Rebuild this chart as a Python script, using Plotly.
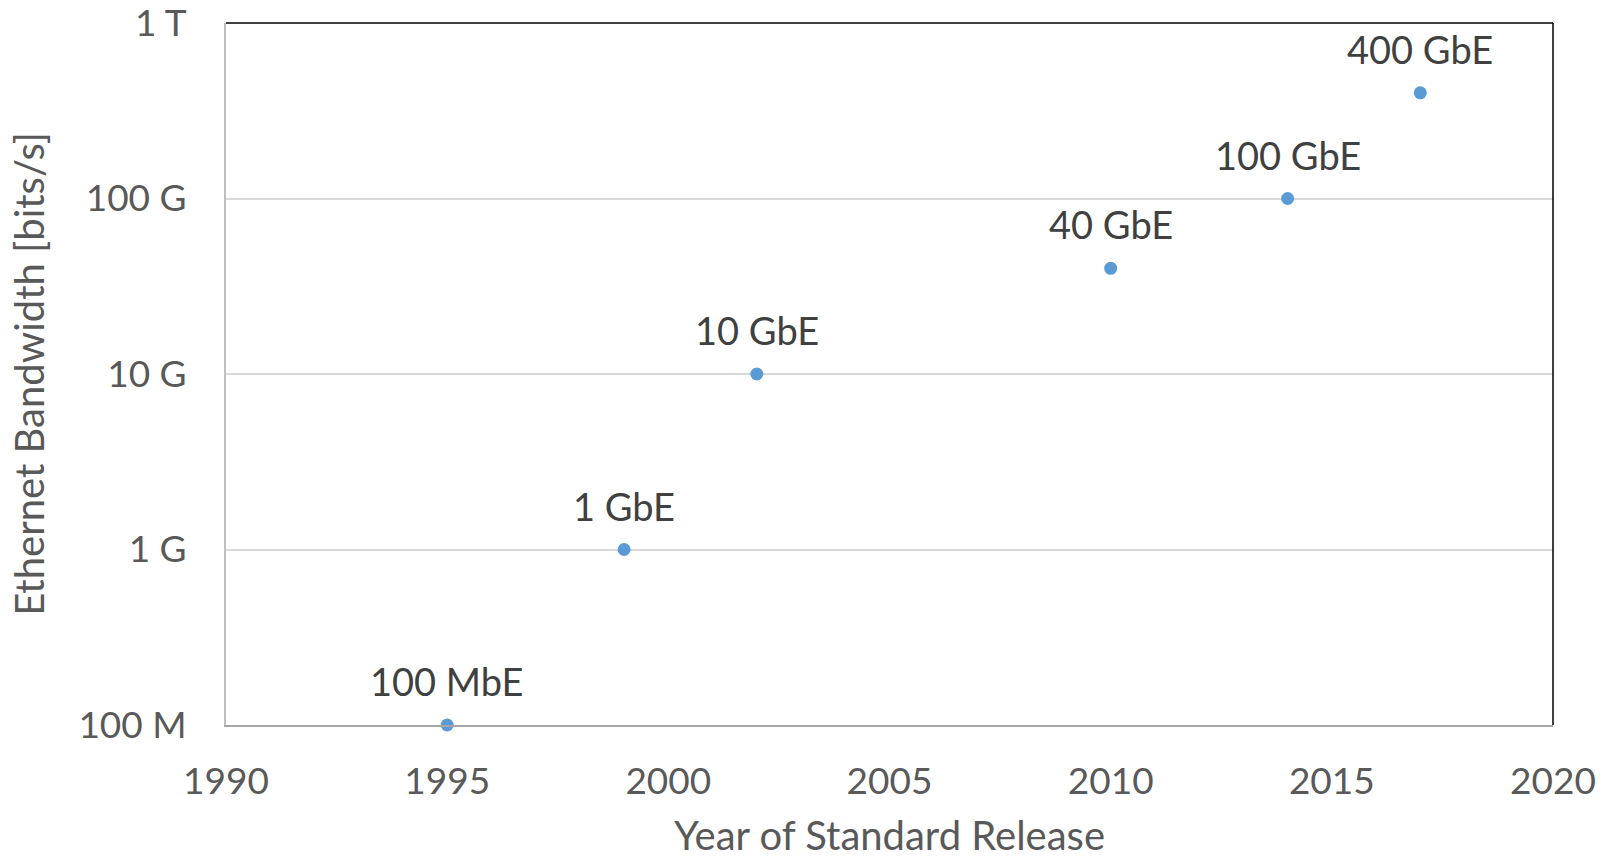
import math
import plotly.graph_objects as go

years = [1995, 1999, 2002, 2010, 2014, 2017]
bandwidth = [1e8, 1e9, 1e10, 4e10, 1e11, 4e11]
labels = ["100 MbE", "1 GbE", "10 GbE", "40 GbE", "100 GbE", "400 GbE"]

x_ticks = [1990, 1995, 2000, 2005, 2010, 2015, 2020]
y_ticks = [1e8, 1e9, 1e10, 1e11, 1e12]
y_tick_text = ["100 M", "1 G", "10 G", "100 G", "1 T"]

FONT = "Lato"
TICK_COLOR = "#595959"
LABEL_COLOR = "#404040"

fig = go.Figure()
fig.add_trace(go.Scatter(
    x=years, y=bandwidth, mode="markers",
    marker=dict(color="#5B9BD5", size=13),
    cliponaxis=False, showlegend=False,
))

for xv, yv, t in zip(years, bandwidth, labels):
    fig.add_annotation(x=xv, y=math.log10(yv), text=t, showarrow=False,
                       yanchor="middle", yshift=44,
                       font=dict(family=FONT, size=38, color=LABEL_COLOR))

# top and right borders (black)
fig.add_shape(type="line", xref="paper", yref="paper", x0=0, x1=1, y0=1, y1=1,
              line=dict(color="#000000", width=1.5))
fig.add_shape(type="line", xref="paper", yref="paper", x0=1, x1=1, y0=0, y1=1,
              line=dict(color="#000000", width=1.5))

fig.update_layout(
    width=1614, height=859,
    margin=dict(l=226, r=61, t=23, b=134),
    paper_bgcolor="white", plot_bgcolor="white",
    font=dict(family=FONT, size=37, color=TICK_COLOR),
    xaxis=dict(
        range=[1990, 2020], tickvals=x_ticks, showgrid=False,
        showline=True, linecolor="#A6A6A6", linewidth=2,
        ticks="", ticklabelstandoff=23, automargin=False,
        ticklabeloverflow="allow",
        tickfont=dict(family=FONT, size=37, color=TICK_COLOR),
        title=dict(text="Year of Standard Release", standoff=27,
                   font=dict(family=FONT, size=40, color=TICK_COLOR)),
        zeroline=False,
    ),
    yaxis=dict(
        type="log", range=[8, 12], tickvals=y_ticks, ticktext=y_tick_text,
        showgrid=True, gridcolor="#D9D9D9", gridwidth=1.5,
        showline=True, linecolor="#BFBFBF", linewidth=2,
        ticks="", ticklabelstandoff=30, automargin=False,
        ticklabeloverflow="allow",
        tickfont=dict(family=FONT, size=37, color=TICK_COLOR),
        title=dict(text="Ethernet Bandwidth [bits/s]", standoff=21,
                   font=dict(family=FONT, size=40, color=TICK_COLOR)),
        zeroline=False,
    ),
)

fig.write_html("out.html", config={"displayModeBar": False},
               post_script="document.body.style.margin='0';")
